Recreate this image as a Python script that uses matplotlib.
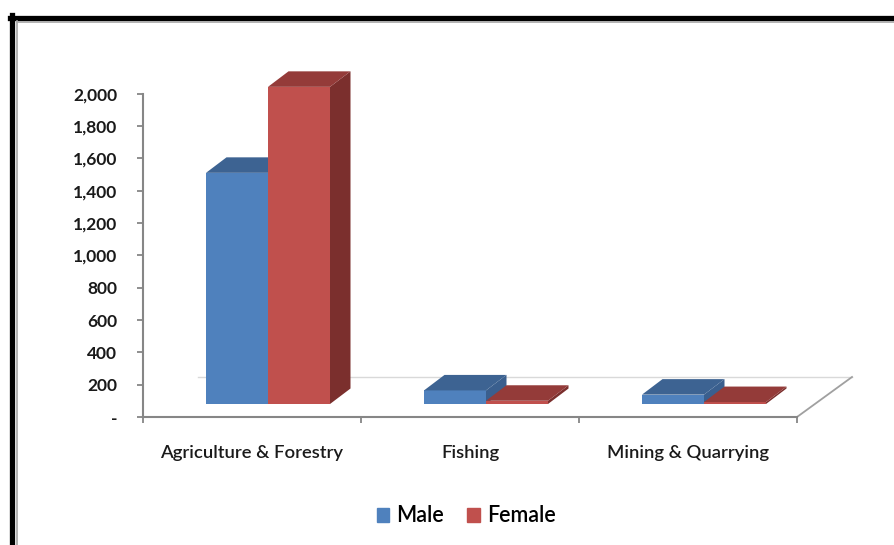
import matplotlib.pyplot as plt
from matplotlib.patches import Polygon, Rectangle
from matplotlib.lines import Line2D

# data
categories = ['Agriculture & Forestry', 'Fishing', 'Mining & Quarrying']
series = ['Male', 'Female']
male = [1430, 84, 58]
female = [1962, 20, 12]
yticks = list(range(0, 2001, 200))
ytick_labels = ['-'] + [f'{v:,}' for v in yticks[1:]]

# front, top, side shades
shades = {
    'Male': ('#4F81BD', '#3D6392', '#3A5F8E'),
    'Female': ('#C0504D', '#943B39', '#7B2F2D'),
}

plt.rcParams['font.family'] = ['Lato', 'DejaVu Sans']

W, H = 895, 545
fig = plt.figure(figsize=(W / 100, H / 100), dpi=100)
ax = fig.add_axes([143 / W, (H - 417) / H, (797 - 143) / W, (417 - 60) / H])

px_x = (797 - 143) / 3          # pixels per category
px_y = 323.3 / 2000             # pixels per unit value
ax.set_xlim(-0.5, 2.5)
ax.set_ylim(0, 357 / px_y)


def ddx(p):
    return p / px_x


def ddy(p):
    return p / px_y


# floor of the 3d plot
fdx, fdy = ddx(55), ddy(40)
floor = Polygon([(-0.5, 0), (2.5, 0), (2.5 + fdx, fdy), (-0.5 + fdx, fdy)],
                closed=True, facecolor='white', edgecolor='none', zorder=0, clip_on=False)
ax.add_patch(floor)
ax.plot([-0.5 + fdx, 2.5 + fdx], [fdy, fdy], color='#D9D9D9', lw=1, clip_on=False, zorder=1)
ax.plot([2.5, 2.5 + fdx], [0, fdy], color='#A0A0A0', lw=1.3, clip_on=False, zorder=1)

# 3d bars
w = ddx(62)
front_dx = ddx(16)
base = ddy(13)
bdx, bdy = ddx(20.5), ddy(15.5)

z = 3
for i, cat in enumerate(categories):
    for j, (name, vals) in enumerate(zip(series, [male, female])):
        front, top, side = shades[name]
        x0 = i + front_dx - w + j * w
        x1 = x0 + w
        v = vals[i]
        y1 = base + v
        ax.bar(x0, v, width=w, bottom=base, align='edge', color=front,
               edgecolor='none', zorder=z)
        ax.add_patch(Polygon([(x0, y1), (x1, y1), (x1 + bdx, y1 + bdy), (x0 + bdx, y1 + bdy)],
                             closed=True, facecolor=top, edgecolor='none', zorder=z, clip_on=False))
        ax.add_patch(Polygon([(x1, base), (x1, y1), (x1 + bdx, y1 + bdy), (x1 + bdx, base + bdy)],
                             closed=True, facecolor=side, edgecolor='none', zorder=z - 0.5, clip_on=False))
        z += 1

# axes styling
for s in ['top', 'right']:
    ax.spines[s].set_visible(False)
ax.spines['left'].set_bounds(0, 2000)
ax.spines['bottom'].set_bounds(-0.5, 2.5)
for s in ['left', 'bottom']:
    ax.spines[s].set_color('#868686')
    ax.spines[s].set_linewidth(1.5)
    ax.spines[s].set_zorder(2)
ax.set_facecolor('none')

ax.set_yticks(yticks)
ax.set_yticklabels(ytick_labels, fontsize=12.5, fontweight='bold', color='#1a1a1a')
ax.tick_params(axis='y', direction='out', length=4.5, width=1.3, color='#868686', pad=14)

ax.set_xticks([0, 1, 2])
ax.set_xticklabels(categories, fontsize=13.3, fontweight='semibold', color='#1a1a1a')
ax.set_xticks([-0.5, 0.5, 1.5, 2.5], minor=True)
ax.tick_params(axis='x', which='major', length=0, pad=20)
ax.tick_params(axis='x', which='minor', direction='out', length=4.5, width=1.3, color='#868686')

# legend
handles = [Rectangle((0, 0), 1, 1, color=shades[n][0]) for n in series]
fig.legend(handles, series, loc='center', bbox_to_anchor=(466 / W, 1 - 516 / H), ncol=2,
           frameon=False, prop={'size': 15.5, 'weight': 'semibold'},
           handlelength=0.6, handleheight=0.6,
           handletextpad=0.3, columnspacing=1.1)

# chart frame (cropped screenshot border)
def fline(xs, ys, **kw):
    fig.add_artist(Line2D([x / W for x in xs], [1 - y / H for y in ys],
                          transform=fig.transFigure, **kw))


fline([12.5, 12.5], [15, H + 5], color='black', lw=3.8)
fline([10, W + 5], [17.5, 17.5], color='black', lw=3.8)
fline([17.5, 17.5], [21, H + 5], color='#A6A6A6', lw=1.2)
fline([17, W + 5], [21.5, 21.5], color='#A6A6A6', lw=1.2)

fig.savefig('out.png', dpi=100)
